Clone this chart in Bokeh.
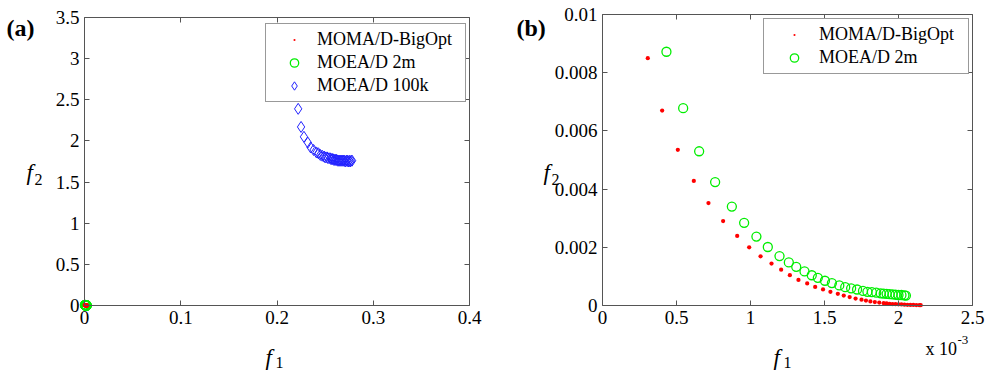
import numpy as np
from bokeh.plotting import figure
from bokeh.models import (Range1d, LinearAxis, FixedTicker, CustomJSTickFormatter,
                          Legend, LegendItem, Label)
from bokeh.embed import file_html
from bokeh.resources import INLINE

# ---------------- data ----------------
# MOMA/D-BigOpt and MOEA/D 2m values are given in units of 1e-3
moma_f1 = [0.306, 0.403, 0.509, 0.617, 0.716, 0.815, 0.910, 0.991, 1.068, 1.142,
           1.207, 1.266, 1.324, 1.383, 1.437, 1.49, 1.54, 1.59, 1.63, 1.67,
           1.71, 1.75, 1.78, 1.81, 1.84, 1.87, 1.90, 1.92, 1.94, 1.96,
           1.98, 2.00, 2.02, 2.04, 2.06, 2.08, 2.10, 2.12, 2.14, 2.15]
moma_f2 = [8.50, 6.70, 5.35, 4.28, 3.52, 2.90, 2.39, 2.00, 1.69, 1.44,
           1.23, 1.04, 0.88, 0.76, 0.64, 0.55, 0.47, 0.40, 0.34, 0.29,
           0.24, 0.20, 0.17, 0.14, 0.12, 0.10, 0.08, 0.07, 0.06, 0.05,
           0.045, 0.04, 0.035, 0.03, 0.025, 0.02, 0.018, 0.015, 0.012, 0.01]
moea2m_f1 = [0.432, 0.545, 0.653, 0.761, 0.874, 0.957, 1.04, 1.117, 1.196, 1.259,
             1.309, 1.365, 1.414, 1.455, 1.503, 1.55, 1.60, 1.64, 1.68, 1.72,
             1.76, 1.79, 1.82, 1.85, 1.88, 1.90, 1.92, 1.94, 1.96, 1.98,
             2.00, 2.02, 2.04, 2.05]
moea2m_f2 = [8.72, 6.78, 5.30, 4.24, 3.40, 2.84, 2.37, 2.01, 1.70, 1.48,
             1.33, 1.17, 1.04, 0.95, 0.85, 0.77, 0.69, 0.63, 0.59, 0.55,
             0.50, 0.47, 0.46, 0.44, 0.42, 0.41, 0.40, 0.39, 0.38, 0.37,
             0.36, 0.36, 0.35, 0.34]
moea100k_f1 = [0.222, 0.225, 0.228, 0.232, 0.235, 0.238, 0.241, 0.243, 0.245, 0.247,
               0.249, 0.250, 0.252, 0.253, 0.255, 0.256, 0.257, 0.258, 0.259, 0.260,
               0.261, 0.262, 0.263, 0.264, 0.265, 0.266, 0.267, 0.268, 0.269, 0.270,
               0.271, 0.272, 0.273, 0.274, 0.275, 0.276, 0.277, 0.278]
moea100k_f2 = [2.39, 2.17, 2.05, 1.98, 1.92, 1.89, 1.86, 1.85, 1.83, 1.82,
               1.81, 1.80, 1.80, 1.79, 1.79, 1.78, 1.78, 1.78, 1.77, 1.77,
               1.77, 1.77, 1.76, 1.76, 1.76, 1.76, 1.76, 1.76, 1.76, 1.76,
               1.75, 1.76, 1.76, 1.75, 1.76, 1.75, 1.76, 1.76]

series_names = ["MOMA/D-BigOpt", "MOEA/D 2m", "MOEA/D 100k"]

a_xlim = (0, 0.4)
a_ylim = (0, 3.5)
b_xlim = (0, 0.0025)
b_ylim = (0, 0.01)
a_xticks = [0, 0.1, 0.2, 0.3, 0.4]
a_yticks = [0, 0.5, 1, 1.5, 2, 2.5, 3, 3.5]
b_xticks = [0, 0.0005, 0.001, 0.0015, 0.002, 0.0025]
b_yticks = [0, 0.002, 0.004, 0.006, 0.008, 0.01]

SCALE = 1e-3
moma_x = np.array(moma_f1) * SCALE
moma_y = np.array(moma_f2) * SCALE
m2_x = np.array(moea2m_f1) * SCALE
m2_y = np.array(moea2m_f2) * SCALE

# ---------------- layout constants (pixels in the 985x371 canvas) ----------------
W, H = 985, 371
A_BOX = (84, 469, 305, 17)    # px of x-min, x-max, y-min, y-max of panel (a)
B_BOX = (602, 972, 305, 14)   # same for panel (b)

FONT = "Liberation Serif"
AX_COL = "#555555"
RED = "#ff0000"
GREEN = "#00ee00"
BLUE = "#2222ff"


def x_span(lim, box):
    s = (lim[1] - lim[0]) / (box[1] - box[0])
    return Range1d(lim[0] - box[0] * s, lim[0] + (W - box[0]) * s)


def y_span(lim, box):
    s = (lim[1] - lim[0]) / (box[2] - box[3])
    return Range1d(lim[0] - (H - box[2]) * s, lim[0] + box[2] * s)


p = figure(width=W, height=H, x_range=x_span(a_xlim, A_BOX), y_range=y_span(a_ylim, A_BOX),
           output_backend="svg", toolbar_location=None,
           x_axis_location=None, y_axis_location=None,
           min_border_left=0, min_border_right=0, min_border_top=0, min_border_bottom=0)
p.extra_x_ranges = {"b": x_span(b_xlim, B_BOX)}
p.extra_y_ranges = {"b": y_span(b_ylim, B_BOX)}
p.outline_line_color = None
p.xgrid.visible = False
p.ygrid.visible = False
p.background_fill_color = "white"
p.border_fill_color = "white"

fmt_plain = CustomJSTickFormatter(code="return String(parseFloat(tick.toFixed(6)));")
fmt_milli = CustomJSTickFormatter(code="return String(parseFloat((tick*1000).toFixed(6)));")
fmt_none = CustomJSTickFormatter(code="return '';")


def style_axis(ax, show_labels):
    ax.axis_line_color = AX_COL
    ax.axis_line_width = 1
    ax.major_tick_line_color = AX_COL
    ax.minor_tick_line_color = None
    ax.major_tick_in = 5
    ax.major_tick_out = 0
    ax.major_label_text_font = FONT
    ax.major_label_text_font_style = "normal"
    ax.major_label_text_font_size = "19px"
    ax.major_label_standoff = 5
    ax.major_label_text_color = "black" if show_labels else None


def add_box_axes(rname, xlim, ylim, xt, yt, xfmt, yfmt):
    specs = [
        ("below", ylim[0], xlim, xt, xfmt, True),
        ("above", ylim[1], xlim, xt, fmt_none, False),
        ("left", xlim[0], ylim, yt, yfmt, True),
        ("right", xlim[1], ylim, yt, fmt_none, False),
    ]
    for side, loc, bounds, ticks, fmt, show in specs:
        ax = LinearAxis(x_range_name=rname, y_range_name=rname, fixed_location=loc,
                        bounds=bounds, ticker=FixedTicker(ticks=ticks), formatter=fmt)
        style_axis(ax, show)
        p.add_layout(ax, side)


def style_legend(lg, label_width, glyph_width):
    lg.margin = 0
    lg.padding = 5
    lg.spacing = 2
    lg.glyph_width = glyph_width
    lg.glyph_height = 21
    lg.label_height = 21
    lg.label_standoff = 0
    lg.label_width = label_width
    lg.label_text_font = FONT
    lg.label_text_font_size = "18px"
    lg.label_text_color = "black"
    lg.border_line_color = "#333333"
    lg.border_line_width = 1
    lg.background_fill_color = "white"
    lg.background_fill_alpha = 1


def add_text(px, py, text, size, style="normal"):
    # place text at canvas pixel (px, py) = left / baseline, through panel (a)'s scales
    xr, yr = p.x_range, p.y_range
    x = xr.start + px * (xr.end - xr.start) / W
    y = yr.end - py * (yr.end - yr.start) / H
    p.add_layout(Label(x=x, y=y, text=text, text_font=FONT, text_font_size=size,
                       text_font_style=style, text_color="black",
                       text_baseline="alphabetic", text_align="left"))


# ---------------- (a) ----------------
add_box_axes("default", a_xlim, a_ylim, a_xticks, a_yticks, fmt_plain, fmt_plain)
ra_blue = p.scatter(moea100k_f1, moea100k_f2, marker="diamond", size=11,
                    fill_color=None, line_color=BLUE, line_width=1)
ra_green = p.scatter(m2_x, m2_y, marker="circle", size=9, fill_color=None,
                     line_color=GREEN, line_width=1.3)
ra_red = p.scatter(moma_x, moma_y, marker="dot", size=17, line_color=RED, fill_color=RED)
lga = Legend(items=[LegendItem(label=series_names[0], renderers=[ra_red]),
                    LegendItem(label=series_names[1], renderers=[ra_green]),
                    LegendItem(label=series_names[2], renderers=[ra_blue])],
             location=(265, H - 102))
style_legend(lga, 143, 46)
p.add_layout(lga)

# ---------------- (b) ----------------
add_box_axes("b", b_xlim, b_ylim, b_xticks, b_yticks, fmt_milli, fmt_plain)
rb_green = p.scatter(m2_x, m2_y, marker="circle", size=9, fill_color=None,
                     line_color=GREEN, line_width=1.3, x_range_name="b", y_range_name="b")
rb_red = p.scatter(moma_x, moma_y, marker="dot", size=17, line_color=RED, fill_color=RED,
                   x_range_name="b", y_range_name="b")
lgb = Legend(items=[LegendItem(label=series_names[0], renderers=[rb_red]),
                    LegendItem(label=series_names[1], renderers=[rb_green])],
             location=(763, H - 74))
style_legend(lgb, 144, 50)
p.add_layout(lgb)

# ---------------- texts ----------------
add_text(6, 27, "(a)", "24px", "bold")
add_text(26, 172, "f", "23px", "italic")
add_text(34, 179, "2", "16px")
add_text(265, 357, "f", "23px", "italic")
add_text(275, 362, "1", "16px")

add_text(516, 27, "(b)", "24px", "bold")
add_text(543, 172, "f", "23px", "italic")
add_text(551, 179, "2", "16px")
add_text(773, 357, "f", "23px", "italic")
add_text(783, 362, "1", "16px")
add_text(925, 348, "x 10", "18px")
add_text(957, 339, "-3", "13px")

open("out.html", "w").write(file_html(p, INLINE))
